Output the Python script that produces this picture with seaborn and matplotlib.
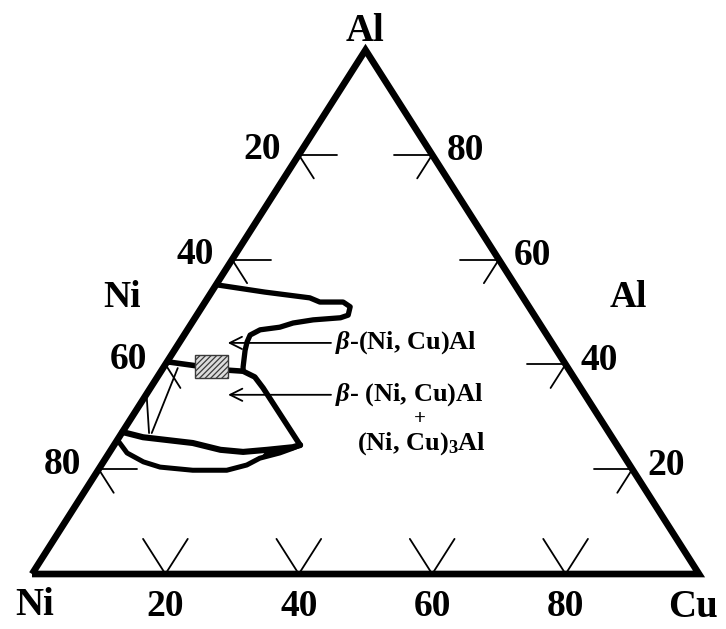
import matplotlib
matplotlib.use("Agg")
import matplotlib.pyplot as plt
from matplotlib.patches import Rectangle
import seaborn as sns

# Ternary Al-Cu-Ni section: compositions in at.% (Al, Cu); Ni is the balance.
tick_values = [20, 40, 60, 80]

# single-phase beta-(Ni,Cu)Al field, upper boundary
beta_upper_al = [55.2, 53.8, 52.7, 51.9, 51.9, 51.0, 49.4, 48.9, 48.5, 47.9, 47.1, 46.6, 45.6, 44.3, 42.7, 39.5, 38.7]
beta_upper_cu = [0.0, 8.0, 15.3, 17.2, 20.7, 22.2, 22.7, 21.8, 17.9, 15.2, 13.6, 10.9, 9.9, 10.1, 10.6, 11.9, 12.3]

# beta boundary towards the two-phase field
beta_lower_al = [40.5, 38.9, 38.7, 37.6, 35.5, 24.6]
beta_lower_cu = [0.0, 9.9, 12.3, 14.6, 16.9, 27.9]

# two-phase beta + (Ni,Cu)3Al field, lower limits
two_phase_top_al = [27.1, 26.1, 25.0, 23.7, 23.3, 23.7, 24.2, 24.6]
two_phase_top_cu = [0.0, 3.6, 11.6, 16.4, 20.0, 23.4, 27.0, 27.9]
two_phase_bot_al = [25.6, 23.1, 21.4, 20.4, 19.8, 19.8, 20.8, 22.1, 23.1, 24.0, 24.6]
two_phase_bot_cu = [0.0, 2.7, 6.0, 9.0, 14.2, 19.3, 21.8, 23.1, 25.6, 27.1, 27.9]

# tie lines
tie_al = [[33.8, 26.9], [39.3, 26.9]]
tie_cu = [[0.3, 4.1], [2.2, 4.5]]

# alloy composition (hatched marker)
alloy_al, alloy_cu = 39.6, 7.1

# phase labels and the compositions their arrows point at
label_beta = r"$\beta$-(Ni, Cu)Al"
label_two = r"$\beta$- (Ni, Cu)Al"
label_plus = "+"
label_ni3al = r"(Ni, Cu)$_{\mathbf{3}}$Al"
arrow1_tip = (44.1, 7.3)
arrow2_tip = (34.2, 12.3)


def tern(al, cu):
    """Al/Cu at.% -> cartesian position in the (stretched) triangle."""
    if isinstance(al, (list, tuple)):
        xs = [c / 100 + a / 200 for a, c in zip(al, cu)]
        ys = [a / 100 for a in al]
        return xs, ys
    return cu / 100 + al / 200, al / 100


sns.set_theme(style="white")
plt.rcParams["font.family"] = ["Liberation Serif", "DejaVu Serif"]
plt.rcParams["font.weight"] = "bold"
plt.rcParams["text.color"] = "black"
plt.rcParams["mathtext.fontset"] = "custom"
plt.rcParams["mathtext.rm"] = "Liberation Serif:bold"
plt.rcParams["mathtext.bf"] = "Liberation Serif:bold"
plt.rcParams["mathtext.it"] = "Liberation Serif:italic"
plt.rcParams["hatch.color"] = "#4a4a4a"
plt.rcParams["hatch.linewidth"] = 0.9

fig = plt.figure(figsize=(7.26, 6.29), dpi=100)
ax = fig.add_axes([0, 0, 1, 1])
ax.set_xlim(-32 / 667, 694 / 667)
ax.set_ylim(-55 / 524, 574 / 524)
ax.set_axis_off()

# triangle frame
fx, fy = tern([0, 100, 0, 0], [0, 0, 100, 0])
ax.plot(fx, fy, color="black", lw=4.8, solid_joinstyle="miter", solid_capstyle="butt", zorder=3)

# axis ticks
Lh, Ld, Lb = 5.8, 4.5, 6.7
tick_kw = dict(color="black", lw=1.3, zorder=2)
for v in tick_values:
    # left edge (Ni): horizontal + parallel to Al-Cu edge
    x, y = tern([100 - v, 100 - v], [0, Lh]); ax.plot(x, y, **tick_kw)
    x, y = tern([100 - v, 100 - v - Ld], [0, Ld]); ax.plot(x, y, **tick_kw)
    # right edge (Al): horizontal + parallel to Ni-Al edge
    x, y = tern([v, v], [100 - v, 100 - v - Lh]); ax.plot(x, y, **tick_kw)
    x, y = tern([v, v - Ld], [100 - v, 100 - v]); ax.plot(x, y, **tick_kw)
    # bottom edge (Cu): V-shaped ticks
    x, y = tern([0, Lb], [v, v - Lb]); ax.plot(x, y, **tick_kw)
    x, y = tern([0, Lb], [v, v]); ax.plot(x, y, **tick_kw)

    # tick labels
    lx, ly = tern(100 - v, 0)
    ax.text(lx - 18 / 667, ly + 5 / 524, str(v), ha="right", va="center", fontsize=27, fontweight="bold")
    rx, ry = tern(v, 100 - v)
    ax.text(rx + 15 / 667, ry + 4 / 524, str(v), ha="left", va="center", fontsize=27, fontweight="bold")
    bx, by = tern(0, v)
    ax.text(bx, by - 15 / 524, str(v), ha="center", va="top", fontsize=27, fontweight="bold")

# corner and side labels
ax.text(*tern(100, 0), "Al", ha="center", va="bottom", fontsize=28, fontweight="bold")
ax.text(3 / 667, -13 / 524, "Ni", ha="center", va="top", fontsize=28, fontweight="bold")
ax.text(1 - 6 / 667, -15 / 524, "Cu", ha="center", va="top", fontsize=28, fontweight="bold")
ax.text(90 / 667, 277 / 524, "Ni", ha="center", va="center", fontsize=27, fontweight="bold")
ax.text(596 / 667, 277 / 524, "Al", ha="center", va="center", fontsize=27, fontweight="bold")

# phase boundaries
bx, by = tern(beta_upper_al, beta_upper_cu)
sns.lineplot(x=bx, y=by, sort=False, estimator=None, color="black", lw=3.8, ax=ax)
bx, by = tern(beta_lower_al, beta_lower_cu)
sns.lineplot(x=bx, y=by, sort=False, estimator=None, color="black", lw=4.0, ax=ax)
tx, ty = tern(two_phase_top_al, two_phase_top_cu)
sns.lineplot(x=tx, y=ty, sort=False, estimator=None, color="black", lw=4.4, ax=ax)
lx2, ly2 = tern(two_phase_bot_al, two_phase_bot_cu)
sns.lineplot(x=lx2, y=ly2, sort=False, estimator=None, color="black", lw=3.6, ax=ax)
# thickened wedge near the tip
ax.fill(tx[5:] + lx2[-4:][::-1], ty[5:] + ly2[-4:][::-1], color="black", lw=0)

for al_pair, cu_pair in zip(tie_al, tie_cu):
    x, y = tern(al_pair, cu_pair)
    ax.plot(x, y, color="black", lw=1.3)

# alloy marker
ax_, ay_ = tern(alloy_al, alloy_cu)
w, h = 33 / 667, 23 / 524
ax.add_patch(Rectangle((ax_ - w / 2, ay_ - h / 2), w, h, facecolor="#dcdcdc",
                       edgecolor="#3a3a3a", hatch="//////", lw=1.0, zorder=4))

# phase labels with arrows
t1 = tern(*arrow1_tip)
t2 = tern(*arrow2_tip)
tail_x = 331 / 667 - 32 / 667
ax.annotate("", xy=t1, xytext=(tail_x, t1[1]),
            arrowprops=dict(arrowstyle="->", lw=1.3, color="black", mutation_scale=22, shrinkA=0, shrinkB=0))
ax.annotate("", xy=t2, xytext=(tail_x, t2[1]),
            arrowprops=dict(arrowstyle="->", lw=1.3, color="black", mutation_scale=22, shrinkA=0, shrinkB=0))
text_x = 335 / 667 - 32 / 667
ax.text(text_x, t1[1], label_beta, ha="left", va="center", fontsize=19, fontweight="bold")
ax.text(text_x, t2[1], label_two, ha="left", va="center", fontsize=19, fontweight="bold")
ax.text(388 / 667, (574 - 419) / 524, label_plus, ha="center", va="center", fontsize=15, fontweight="bold")
ax.text(389 / 667, (574 - 444) / 524, label_ni3al, ha="center", va="center", fontsize=19, fontweight="bold")

fig.savefig("out.png", dpi=100, facecolor="white")
